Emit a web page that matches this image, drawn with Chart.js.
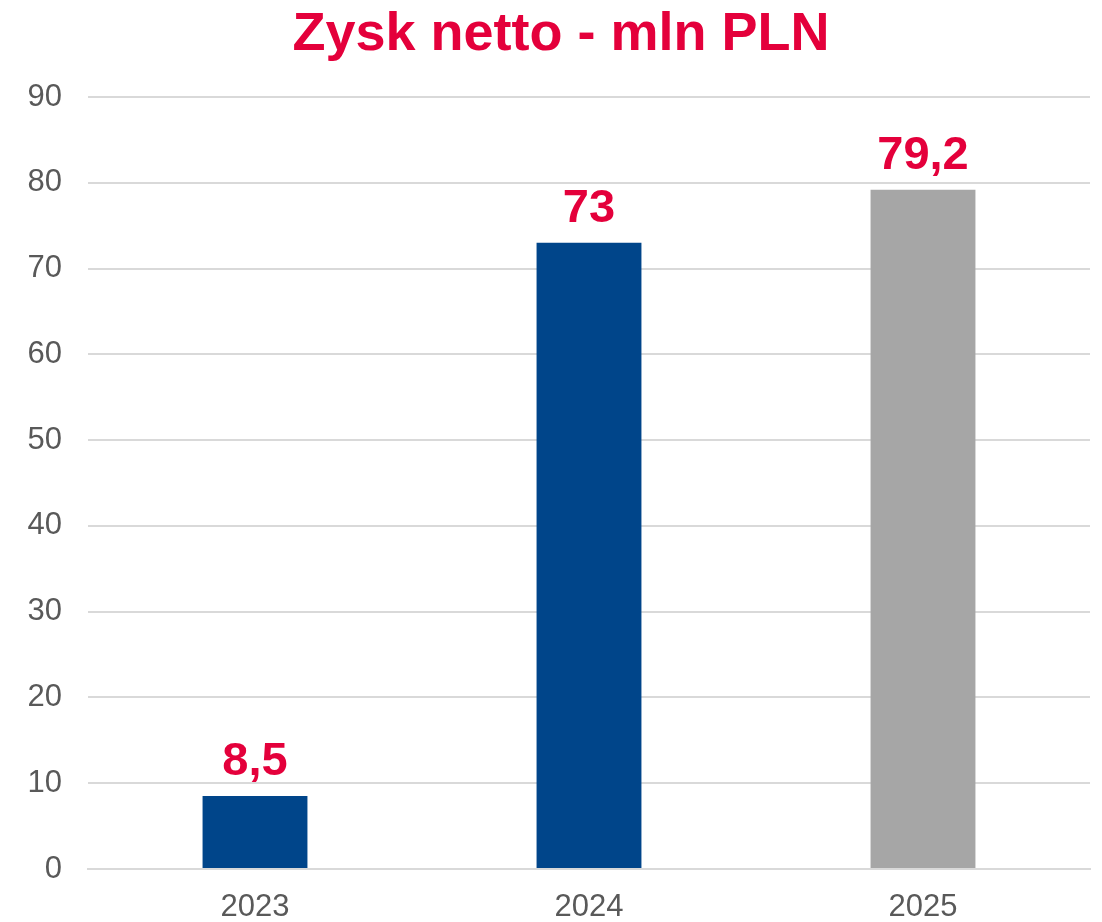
<!DOCTYPE html>
<html>
<head>
<meta charset="utf-8">
<script src="https://cdn.jsdelivr.net/npm/chart.js@4"></script>
<style>
  body { margin: 0; background: #fff; }
  #wrap { width: 1102px; height: 922px; }
</style>
</head>
<body>
<div id="wrap"><canvas id="profitChart" width="1102" height="922"></canvas></div>
<script>
// data
const years = ['2023', '2024', '2025'];
const profit = [8.5, 73, 79.2];
const barColors = ['#00458A', '#00458A', '#A6A6A6'];
const yTicks = [0, 10, 20, 30, 40, 50, 60, 70, 80, 90];

const RED = '#E4003B';
const FONT = '"Liberation Sans", Arial, sans-serif';

// title drawn by hand so it can sit a bit right of centre, like the original
const titleText = {
    id: 'titleText',
    afterDraw(chart) {
        const ctx = chart.ctx;
        ctx.save();
        ctx.fillStyle = RED;
        ctx.font = 'bold 54px ' + FONT;
        ctx.textAlign = 'center';
        ctx.textBaseline = 'alphabetic';
        ctx.fillText('Zysk netto - mln PLN', 561, 50);
        ctx.restore();
    }
};

// value labels above the bars, Polish decimal comma
const valueLabels = {
    id: 'valueLabels',
    afterDatasetsDraw(chart) {
        const ctx = chart.ctx;
        const meta = chart.getDatasetMeta(0);
        ctx.save();
        ctx.fillStyle = RED;
        ctx.font = 'bold 47px ' + FONT;
        ctx.textAlign = 'center';
        ctx.textBaseline = 'alphabetic';
        meta.data.forEach((bar, i) => {
            const txt = String(profit[i]).replace('.', ',');
            ctx.fillText(txt, bar.x, bar.y - 21);
        });
        ctx.restore();
    }
};

function whenDocumentLoaded(action) {
    if (document.readyState === "loading") {
        document.addEventListener("DOMContentLoaded", action);
    } else {
        action();
    }
}

whenDocumentLoaded(() => {
    const ctx = document.getElementById('profitChart');
    new Chart(ctx, {
        type: 'bar',
        data: {
            labels: years,
            datasets: [{
                label: 'Zysk netto',
                data: profit,
                backgroundColor: barColors,
                categoryPercentage: 1,
                barPercentage: 0.314
            }]
        },
        options: {
            responsive: false,
            animation: false,
            layout: { padding: { top: 97, right: 12, left: 0, bottom: 0 } },
            plugins: {
                legend: { display: false },
                tooltip: { enabled: false },
                title: { display: false }
            },
            scales: {
                x: {
                    grid: { display: false },
                    border: { display: true, color: '#D9D9D9', width: 2 },
                    ticks: {
                        color: '#595959',
                        font: { family: FONT, size: 31 },
                        padding: 12
                    },
                    afterFit(scale) { scale.height = 53; }
                },
                y: {
                    min: 0,
                    max: 90,
                    afterBuildTicks(scale) {
                        scale.ticks = yTicks.map(v => ({ value: v }));
                    },
                    grid: { color: '#D9D9D9', lineWidth: 2, drawTicks: false },
                    border: { display: false },
                    ticks: {
                        color: '#595959',
                        font: { family: FONT, size: 31 },
                        padding: 26
                    },
                    afterFit(scale) { scale.width = 88; }
                }
            }
        },
        plugins: [valueLabels, titleText]
    });
});
</script>
</body>
</html>
